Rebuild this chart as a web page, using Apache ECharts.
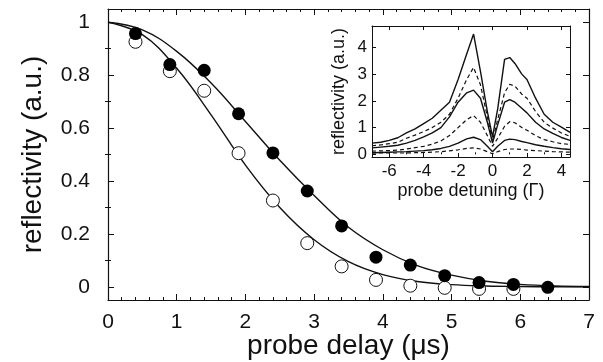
<!DOCTYPE html>
<html>
<head>
<meta charset="utf-8">
<script src="https://cdn.jsdelivr.net/npm/echarts@6/dist/echarts.min.js"></script>
<style>
  html, body { margin: 0; padding: 0; background: #fff; }
  #chart { width: 603px; height: 362px; }
</style>
</head>
<body>
<div id="chart"></div>
<script>
// ---------- main panel: reflectivity vs probe delay ----------
const delayFilled = [0.4, 0.9, 1.4, 1.9, 2.4, 2.9, 3.4, 3.9, 4.4, 4.9, 5.4, 5.9, 6.4]
const reflFilled = [0.957, 0.84, 0.818, 0.654, 0.506, 0.362, 0.23, 0.112, 0.082, 0.042, 0.016, 0.009, -0.002]
const delayOpen = [0.4, 0.9, 1.4, 1.9, 2.4, 2.9, 3.4, 3.9, 4.4, 4.9, 5.4, 5.9]
const reflOpen = [0.926, 0.815, 0.741, 0.505, 0.326, 0.165, 0.077, 0.026, 0.004, -0.004, -0.008, -0.008]

// fitted curves
const fitX = [0, 0.5, 1, 1.5, 2, 2.5, 3, 3.5, 4, 4.5, 5, 5.5, 6, 6.5, 7]
const fitFilled = [1.0, 0.971, 0.89, 0.77, 0.625, 0.478, 0.345, 0.225, 0.14, 0.08, 0.044, 0.021, 0.009, 0.003, 0.001]
const fitOpen = [1.0, 0.953, 0.826, 0.65, 0.46, 0.30, 0.178, 0.095, 0.046, 0.02, 0.008, 0.003, 0.001, 0.0, 0.0]

// tick values for the main y axis
const yMajor = [0, 0.2, 0.4, 0.6, 0.8, 1]
const yMinor = [0.1, 0.3, 0.5, 0.7, 0.9]

// ---------- inset: reflectivity vs probe detuning ----------
const detuning = [-7, -6.5, -6, -5.5, -5, -4.5, -4, -3.5, -3, -2.5, -2, -1.5, -1.1, -0.7, -0.3, 0, 0.3, 0.7, 1.0, 1.3, 1.7, 2, 2.5, 3, 3.5, 4, 4.5]
const solid1 = [0.42, 0.45, 0.52, 0.62, 0.8, 0.95, 1.15, 1.35, 1.65, 1.95, 2.8, 3.75, 4.5, 3.1, 1.6, 0.65, 1.7, 3.55, 3.62, 3.4, 3.0, 2.8, 2.1, 1.5, 1.2, 1.02, 0.82]
const dashed1 = [0.32, 0.35, 0.4, 0.45, 0.6, 0.72, 0.85, 1.0, 1.2, 1.5, 2.1, 2.8, 3.25, 2.6, 1.4, 0.5, 1.3, 2.3, 2.62, 2.55, 2.25, 2.1, 1.6, 1.2, 0.98, 0.8, 0.67]
const solid2 = [0.24, 0.27, 0.3, 0.34, 0.42, 0.52, 0.65, 0.8, 1.0, 1.4, 1.95, 2.3, 2.4, 2.1, 1.2, 0.42, 1.1, 1.95, 2.05, 1.95, 1.72, 1.55, 1.2, 0.95, 0.78, 0.63, 0.52]
const dashed2 = [0.12, 0.13, 0.14, 0.16, 0.2, 0.25, 0.3, 0.38, 0.5, 0.7, 1.0, 1.3, 1.45, 1.2, 0.7, 0.3, 0.6, 1.05, 1.22, 1.18, 1.0, 0.9, 0.7, 0.55, 0.47, 0.4, 0.37]
const solid3 = [0.06, 0.07, 0.08, 0.09, 0.1, 0.12, 0.14, 0.17, 0.22, 0.3, 0.42, 0.58, 0.64, 0.55, 0.3, 0.1, 0.3, 0.52, 0.57, 0.55, 0.48, 0.44, 0.36, 0.3, 0.25, 0.21, 0.18]
const dashed3 = [0.05, 0.05, 0.05, 0.05, 0.05, 0.06, 0.07, 0.08, 0.1, 0.13, 0.17, 0.22, 0.24, 0.2, 0.1, 0.02, 0.1, 0.18, 0.2, 0.2, 0.18, 0.16, 0.14, 0.12, 0.1, 0.09, 0.08]

const insetXMajor = [-6, -4, -2, 0, 2, 4]
const insetXMinor = [-7, -5, -3, -1, 1, 3]
const insetYMajor = [0, 1, 2, 3, 4]

/******************************HELPERS********************************/
const INK = '#111'
const FONT = 'Liberation Sans'

const pairs = (xs, ys) => xs.map((x, i) => [x, ys[i]])

// an axis that only draws a frame edge plus ticks (no labels)
const tickAxis = (extra) => Object.assign({
  type: 'value',
  nameMoveOverlap: false,
  axisLine: { show: true, onZero: false, lineStyle: { color: INK, width: 1.2 } },
  axisTick: { show: true, inside: true, length: 6, lineStyle: { color: INK } },
  axisLabel: { show: false },
  splitLine: { show: false }
}, extra)

/******************************CHART********************************/
const chart = echarts.init(document.getElementById('chart'))

const option = {
  animation: false,
  backgroundColor: '#fff',
  textStyle: { fontFamily: FONT, color: INK },
  grid: [
    { left: 108, top: 9, width: 481, height: 291, outerBoundsMode: 'none', containLabel: false },
    { left: 372, top: 26, width: 198, height: 131, outerBoundsMode: 'none', containLabel: false }
  ],
  xAxis: [
    // main bottom
    tickAxis({
      gridIndex: 0, position: 'bottom', min: 0, max: 7, interval: 1,
      minorTick: { show: true, splitNumber: 5, length: 3, lineStyle: { color: INK } },
      axisLabel: { show: true, fontSize: 21, color: INK, margin: 12, fontFamily: FONT },
      name: 'probe delay (\u03bcs)', nameLocation: 'middle', nameGap: 32,
      nameTextStyle: { fontSize: 28, color: INK, fontFamily: FONT }
    }),
    // main top
    tickAxis({
      gridIndex: 0, position: 'top', min: 0, max: 7, interval: 1,
      minorTick: { show: true, splitNumber: 5, length: 3, lineStyle: { color: INK } }
    }),
    // inset bottom (labels + major ticks)
    tickAxis({
      gridIndex: 1, position: 'bottom', min: -7, max: 4.5,
      axisLine: { show: true, onZero: false, lineStyle: { color: INK, width: 1 } },
      axisTick: { show: true, inside: true, length: 4, customValues: insetXMajor, lineStyle: { color: INK } },
      axisLabel: { show: true, customValues: insetXMajor, fontSize: 17, color: INK, margin: 6, fontFamily: FONT },
      name: 'probe detuning (\u0393)', nameLocation: 'middle', nameGap: 25,
      nameTextStyle: { fontSize: 18, color: INK, fontFamily: FONT }
    }),
    // inset bottom minor ticks
    tickAxis({
      gridIndex: 1, position: 'bottom', min: -7, max: 4.5,
      axisLine: { show: false },
      axisTick: { show: true, inside: true, length: 2, customValues: insetXMinor, lineStyle: { color: INK } }
    }),
    // inset top
    tickAxis({
      gridIndex: 1, position: 'top', min: -7, max: 4.5,
      axisLine: { show: true, onZero: false, lineStyle: { color: INK, width: 1 } },
      axisTick: { show: true, inside: true, length: 4, customValues: insetXMajor, lineStyle: { color: INK } }
    })
  ],
  yAxis: [
    // main left
    tickAxis({
      gridIndex: 0, position: 'left', min: -0.05, max: 1.05,
      axisTick: { show: true, inside: true, length: 6, customValues: yMajor, lineStyle: { color: INK } },
      axisLabel: { show: true, customValues: yMajor, fontSize: 21, color: INK, margin: 18, fontFamily: FONT },
      name: 'reflectivity (a.u.)', nameLocation: 'middle', nameGap: 61,
      nameTextStyle: { fontSize: 28, color: INK, fontFamily: FONT }
    }),
    tickAxis({
      gridIndex: 0, position: 'left', min: -0.05, max: 1.05, axisLine: { show: false },
      axisTick: { show: true, inside: true, length: 3, customValues: yMinor, lineStyle: { color: INK } }
    }),
    // main right
    tickAxis({
      gridIndex: 0, position: 'right', min: -0.05, max: 1.05,
      axisTick: { show: true, inside: true, length: 6, customValues: yMajor, lineStyle: { color: INK } }
    }),
    tickAxis({
      gridIndex: 0, position: 'right', min: -0.05, max: 1.05, axisLine: { show: false },
      axisTick: { show: true, inside: true, length: 3, customValues: yMinor, lineStyle: { color: INK } }
    }),
    // inset left
    tickAxis({
      gridIndex: 1, position: 'left', min: -0.1, max: 4.8,
      axisLine: { show: true, onZero: false, lineStyle: { color: INK, width: 1 } },
      axisTick: { show: true, inside: true, length: 4, customValues: insetYMajor, lineStyle: { color: INK } },
      axisLabel: { show: true, customValues: insetYMajor, fontSize: 17, color: INK, margin: 5, fontFamily: FONT },
      name: 'reflectivity (a.u.)', nameLocation: 'middle', nameGap: 24,
      nameTextStyle: { fontSize: 18, color: INK, fontFamily: FONT }
    }),
    // inset right
    tickAxis({
      gridIndex: 1, position: 'right', min: -0.1, max: 4.8,
      axisLine: { show: true, onZero: false, lineStyle: { color: INK, width: 1 } },
      axisTick: { show: true, inside: true, length: 4, customValues: insetYMajor, lineStyle: { color: INK } }
    })
  ],
  series: [
    {
      type: 'line', xAxisIndex: 0, yAxisIndex: 0, data: pairs(fitX, fitFilled),
      smooth: 0.4, showSymbol: false,
      lineStyle: { color: INK, width: 1.4 }, z: 2
    },
    {
      type: 'line', xAxisIndex: 0, yAxisIndex: 0, data: pairs(fitX, fitOpen),
      smooth: 0.4, showSymbol: false,
      lineStyle: { color: INK, width: 1.4 }, z: 2
    },
    {
      type: 'scatter', xAxisIndex: 0, yAxisIndex: 0, data: pairs(delayOpen, reflOpen),
      symbol: 'circle', symbolSize: 13,
      itemStyle: { color: '#fff', borderColor: INK, borderWidth: 1, opacity: 1 }, z: 3
    },
    {
      type: 'scatter', xAxisIndex: 0, yAxisIndex: 0, data: pairs(delayFilled, reflFilled),
      symbol: 'circle', symbolSize: 13,
      itemStyle: { color: '#000', opacity: 1 }, z: 4
    },
    ...[
      [solid1, 'solid'], [dashed1, 'dashed'],
      [solid2, 'solid'], [dashed2, 'dashed'],
      [solid3, 'solid'], [dashed3, 'dashed']
    ].map(([ys, kind]) => ({
      type: 'line', xAxisIndex: 2, yAxisIndex: 4, data: pairs(detuning, ys),
      showSymbol: false, clip: true,
      lineStyle: { color: INK, width: kind === 'solid' ? 1.4 : 1.2, type: kind === 'solid' ? 'solid' : [4, 3] }
    }))
  ]
}

chart.setOption(option)
</script>
</body>
</html>
